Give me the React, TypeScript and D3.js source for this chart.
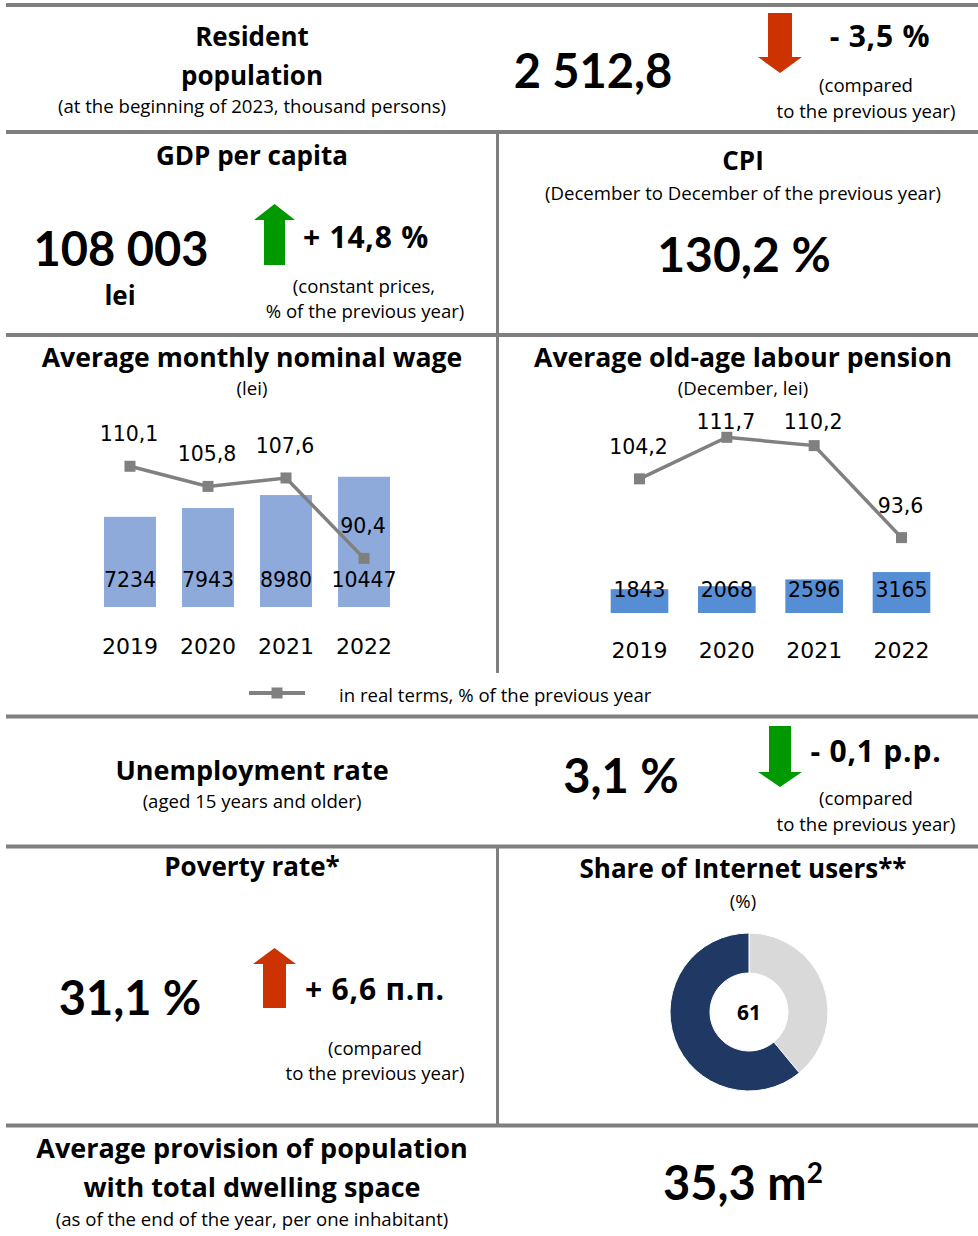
import React from "react";
import * as d3 from "d3";

const years = ["2019", "2020", "2021", "2022"];
const wageValues = [7234, 7943, 8980, 10447];
const wageReal = [110.1, 105.8, 107.6, 90.4];
const pensionValues = [1843, 2068, 2596, 3165];
const pensionReal = [104.2, 111.7, 110.2, 93.6];
const internetShare = [39, 61]; // other, users (pie drawn clockwise from top)
const internetLabel = "61";

const W = 978;
const H = 1236;
const F = "'Open Sans', Lato, sans-serif";
const FB = "Lato, 'Open Sans', sans-serif";
const FC = "'DejaVu Sans', sans-serif";
const GRID = "#7f7f7f";
const RED = "#cc3300";
const GREEN = "#009900";
const SMALL = 18.6;

const locale = d3.formatLocale({ decimal: ",", thousands: " ", grouping: [3], currency: ["", ""] });
const fmt1 = locale.format(".1f");
const fmtInt = d3.format("d");

function arrowPath(cx: number, shaftW: number, headW: number, start: number, headStart: number, tip: number) {
  const p = d3.path();
  p.moveTo(cx - shaftW / 2, start);
  p.lineTo(cx + shaftW / 2, start);
  p.lineTo(cx + shaftW / 2, headStart);
  p.lineTo(cx + headW / 2, headStart);
  p.lineTo(cx, tip);
  p.lineTo(cx - headW / 2, headStart);
  p.lineTo(cx - shaftW / 2, headStart);
  p.closePath();
  return p.toString();
}

type ComboProps = {
  values: number[];
  real: number[];
  x0: number; x1: number; pad: number;
  yBottom: number; yTop: number;
  realMin: number; realMax: number;
  barColor: string;
  barLabelOffset: number;
  yearBaseline: number;
  labelMinY: number;
};

function Combo(p: ComboProps) {
  const x = d3.scaleBand<string>().domain(years).range([p.x0, p.x1]).padding(p.pad);
  const y = d3.scaleLinear().domain([0, 15000]).range([p.yBottom, p.yTop]);
  const y2 = d3.scaleLinear().domain([p.realMin, p.realMax]).range([p.yBottom, p.yTop]);
  const cx = (i: number) => (x(years[i]) as number) + x.bandwidth() / 2;
  const line = d3.line<number>().x((_, i) => cx(i)).y((d) => y2(d));
  return (
    <g>
      {p.values.map((v, i) => (
        <rect key={"b" + i} x={x(years[i])} y={y(v)} width={x.bandwidth()} height={y(0) - y(v)} fill={p.barColor} />
      ))}
      {p.values.map((v, i) => (
        <text key={"bl" + i} x={cx(i)} y={p.yBottom - p.barLabelOffset} textAnchor="middle" fontFamily={FC} fontSize={20.5} fill="#000">
          {fmtInt(v)}
        </text>
      ))}
      <path d={line(p.real) || ""} fill="none" stroke="#808080" strokeWidth={3.5} />
      {p.real.map((v, i) => (
        <rect key={"m" + i} x={cx(i) - 5.5} y={y2(v) - 5.5} width={11} height={11} fill="#808080" />
      ))}
      {p.real.map((v, i) => (
        <text key={"rl" + i} x={cx(i) - 1} y={Math.max(y2(v) - 25, p.labelMinY)} textAnchor="middle" fontFamily={FC} fontSize={20.5} fill="#000">
          {fmt1(v)}
        </text>
      ))}
      {years.map((yr, i) => (
        <text key={"yr" + i} x={cx(i)} y={p.yearBaseline} textAnchor="middle" fontFamily={FC} fontSize={22} fill="#000">
          {yr}
        </text>
      ))}
    </g>
  );
}

function Donut() {
  const cx = 749, cy = 1012;
  const pie = d3.pie<number>().sort(null).value((d) => d);
  const arc = d3.arc<d3.PieArcDatum<number>>().innerRadius(39).outerRadius(79);
  const arcs = pie(internetShare);
  const colors = ["#d9d9d9", "#1f3864"];
  return (
    <g transform={`translate(${cx},${cy})`}>
      {arcs.map((a, i) => (
        <path key={i} d={arc(a) || ""} fill={colors[i]} stroke="#fff" strokeWidth={1} />
      ))}
      <text x={0} y={8} textAnchor="middle" fontFamily={F} fontWeight={700} fontSize={21} fill="#000">{internetLabel}</text>
    </g>
  );
}

const T = (props: any) => <text textAnchor="middle" fontFamily={F} fill="#000" {...props} />;
const B = (props: any) => <text textAnchor="middle" fontFamily={FB} fontWeight={700} fill="#000" {...props} />;
const C = (props: any) => <text textAnchor="middle" fontFamily={F} fontWeight={700} fontSize={30} letterSpacing={0.8} fill="#000" {...props} />;

export default function App() {
  const hLines = [5, 132, 335, 716.5, 846.5, 1125.5];
  return (
    <div style={{ position: "absolute", left: 0, top: 0 }}>
      <svg width={W} height={H} viewBox={`0 0 ${W} ${H}`} style={{ display: "block", background: "#fff" }}>
        <rect x={0} y={0} width={W} height={H} fill="#fff" />
        {hLines.map((yy, i) => (
          <line key={i} x1={6} x2={W} y1={yy} y2={yy} stroke={GRID} strokeWidth={4} />
        ))}
        <line x1={497.5} x2={497.5} y1={132} y2={335} stroke={GRID} strokeWidth={3} />
        <line x1={497.5} x2={497.5} y1={335} y2={673} stroke={GRID} strokeWidth={3} />
        <line x1={497.5} x2={497.5} y1={846} y2={1126} stroke={GRID} strokeWidth={3} />

        {/* Resident population */}
        <T x={252} y={46} fontSize={26} fontWeight={700}>Resident</T>
        <T x={252} y={85} fontSize={26} fontWeight={700}>population</T>
        <T x={252} y={113} fontSize={SMALL}>(at the beginning of 2023, thousand persons)</T>
        <B x={593} y={88} fontSize={47}>2 512,8</B>
        <path d={arrowPath(780, 24, 44, 13, 57, 73)} fill={RED} />
        <C x={880} y={47}>- 3,5 %</C>
        <T x={866} y={92} fontSize={SMALL}>(compared</T>
        <T x={866} y={118} fontSize={SMALL}>to the previous year)</T>

        {/* GDP per capita */}
        <T x={252} y={165} fontSize={26} fontWeight={700}>GDP per capita</T>
        <B x={121} y={266} fontSize={47}>108 003</B>
        <T x={120} y={305} fontSize={26} fontWeight={700}>lei</T>
        <path d={arrowPath(274.5, 21, 41, 265, 220, 204)} fill={GREEN} />
        <C x={366} y={248}>+ 14,8 %</C>
        <T x={364} y={293} fontSize={SMALL}>(constant prices,</T>
        <T x={365} y={318} fontSize={SMALL}>% of the previous year)</T>

        {/* CPI */}
        <T x={743} y={170} fontSize={26} fontWeight={700}>CPI</T>
        <T x={743} y={200} fontSize={SMALL}>(December to December of the previous year)</T>
        <B x={744} y={272} fontSize={48}>130,2 %</B>

        {/* Wage */}
        <T x={252} y={367} fontSize={26.6} fontWeight={700}>Average monthly nominal wage</T>
        <T x={252} y={395} fontSize={SMALL}>(lei)</T>
        <Combo values={wageValues} real={wageReal} x0={78} x1={416} pad={0.333} yBottom={607} yTop={420}
          realMin={80} realMax={120} barColor="#8eaadb" barLabelOffset={20} yearBaseline={654} labelMinY={0} />

        {/* Pension */}
        <T x={743} y={367} fontSize={26.6} fontWeight={700}>Average old-age labour pension</T>
        <T x={743} y={395} fontSize={SMALL}>(December, lei)</T>
        <Combo values={pensionValues} real={pensionReal} x0={581} x1={960} pad={0.34} yBottom={613} yTop={419}
          realMin={80} realMax={115} barColor="#558ed5" barLabelOffset={16} yearBaseline={658} labelMinY={429} />

        {/* Legend */}
        <line x1={249} x2={305} y1={693} y2={693} stroke="#808080" strokeWidth={4} />
        <rect x={271.5} y={687.5} width={11} height={11} fill="#808080" />
        <text x={339} y={702} fontFamily={F} fontSize={SMALL} fill="#000">in real terms, % of the previous year</text>

        {/* Unemployment */}
        <T x={252} y={780} fontSize={27} fontWeight={700}>Unemployment rate</T>
        <T x={252} y={808} fontSize={SMALL}>(aged 15 years and older)</T>
        <B x={621} y={793} fontSize={47}>3,1 %</B>
        <path d={arrowPath(780, 22, 44, 726, 772, 787)} fill={GREEN} />
        <C x={876} y={762}>- 0,1 p.p.</C>
        <T x={866} y={805} fontSize={SMALL}>(compared</T>
        <T x={866} y={831} fontSize={SMALL}>to the previous year)</T>

        {/* Poverty */}
        <T x={252} y={876} fontSize={26} fontWeight={700}>Poverty rate*</T>
        <B x={130} y={1015} fontSize={47}>31,1 %</B>
        <path d={arrowPath(274.5, 23, 43, 1008, 964, 948)} fill={RED} />
        <C x={375} y={1000}>+ 6,6 п.п.</C>
        <T x={375} y={1055} fontSize={SMALL}>(compared</T>
        <T x={375} y={1080} fontSize={SMALL}>to the previous year)</T>

        {/* Internet */}
        <T x={743} y={878} fontSize={26} fontWeight={700}>Share of Internet users**</T>
        <T x={743} y={908} fontSize={SMALL}>(%)</T>
        <Donut />

        {/* Dwelling */}
        <T x={252} y={1158} fontSize={27} fontWeight={700}>Average provision of population</T>
        <T x={252} y={1197} fontSize={27} fontWeight={700}>with total dwelling space</T>
        <T x={252} y={1226} fontSize={SMALL}>(as of the end of the year, per one inhabitant)</T>
        <B x={743} y={1200} fontSize={47}>
          35,3 m<tspan fontSize={28} dy={-17}>2</tspan>
        </B>
      </svg>
    </div>
  );
}
